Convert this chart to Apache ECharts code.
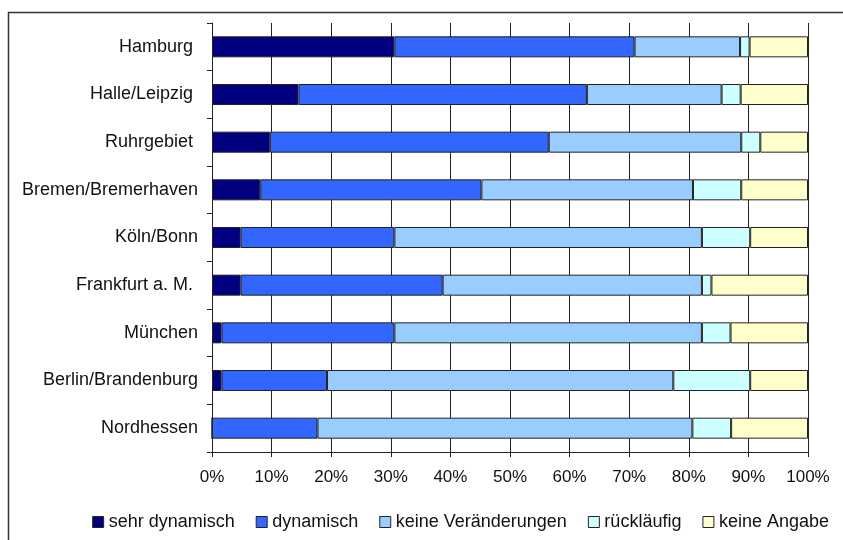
<!DOCTYPE html>
<html>
<head>
<meta charset="utf-8">
<script src="https://cdn.jsdelivr.net/npm/echarts@6/dist/echarts.min.js"></script>
<style>
  html, body { margin: 0; padding: 0; background: #fff; }
  #chart { width: 843px; height: 540px; }
</style>
</head>
<body>
<div id="chart"></div>
<script>
// Regions (top to bottom)
const regions = [
  'Hamburg ', 'Halle/Leipzig ', 'Ruhrgebiet ', 'Bremen/Bremerhaven', 'Köln/Bonn',
  'Frankfurt a. M. ', 'München', 'Berlin/Brandenburg', 'Nordhessen'
];

// Share of answers per region, in percent
const sehrDynamisch      = [30.6, 14.5,  9.7,  8.1,  4.8,  4.8,  1.6,  1.6,  0.0];
const dynamisch          = [40.3, 48.4, 46.8, 37.1, 25.8, 33.9, 29.0, 17.7, 17.7];
const keineVeraenderung  = [17.7, 22.6, 32.3, 35.5, 51.6, 43.5, 51.6, 58.1, 62.9];
const ruecklaeufig       = [ 1.6,  3.2,  3.2,  8.1,  8.1,  1.6,  4.8, 12.9,  6.5];
const keineAngabe        = [ 9.8, 11.3,  8.0, 11.2,  9.7, 16.2, 13.0,  9.7, 12.9];

const seriesNames = ['sehr dynamisch', 'dynamisch', 'keine Veränderungen', 'rückläufig', 'keine Angabe'];
const seriesData  = [sehrDynamisch, dynamisch, keineVeraenderung, ruecklaeufig, keineAngabe];
const colors      = ['#000080', '#3366FF', '#99CCFF', '#CCFFFF', '#FFFFCC'];

const xTicks = [0, 10, 20, 30, 40, 50, 60, 70, 80, 90, 100];

const FONT = '"Liberation Sans", Arial, sans-serif';

const chart = echarts.init(document.getElementById('chart'), null, { renderer: 'canvas' });

chart.setOption({
  animation: false,
  backgroundColor: '#ffffff',
  color: colors,
  graphic: [{
    type: 'rect',
    left: 6, top: 10,
    shape: { width: 900, height: 600 },
    style: { fill: 'none', stroke: '#333333', lineWidth: 1.5 },
    silent: true
  }],
  grid: { left: 212, right: 35, top: 23, bottom: 88, containLabel: false },
  legend: {
    data: seriesNames,
    right: 14,
    top: 513,
    padding: 0,
    itemWidth: 11,
    itemHeight: 11,
    itemGap: 21,
    icon: 'rect',
    textStyle: { fontFamily: FONT, fontSize: 18, color: '#111' },
    itemStyle: { borderColor: '#222', borderWidth: 1 }
  },
  xAxis: {
    type: 'value',
    min: xTicks[0],
    max: xTicks[xTicks.length - 1],
    interval: 10,
    axisLine: { show: true, lineStyle: { color: '#222', width: 1 } },
    axisTick: { show: true, length: 5, lineStyle: { color: '#222' } },
    axisLabel: {
      fontFamily: FONT, fontSize: 17, color: '#111', margin: 17,
      formatter: v => v + '%'
    },
    splitLine: { show: true, lineStyle: { color: '#222', width: 1 } }
  },
  yAxis: {
    type: 'category',
    data: regions,
    inverse: true,
    axisLine: { show: true, lineStyle: { color: '#222', width: 1 } },
    axisTick: { show: true, length: 5, lineStyle: { color: '#222' } },
    axisLabel: { fontFamily: FONT, fontSize: 18, color: '#111', margin: 14 },
    splitLine: { show: false }
  },
  series: seriesData.map((d, i) => ({
    name: seriesNames[i],
    type: 'bar',
    stack: 'total',
    data: d,
    barWidth: 21,
    itemStyle: { color: colors[i], borderColor: '#222', borderWidth: 1 }
  }))
});
</script>
</body>
</html>
